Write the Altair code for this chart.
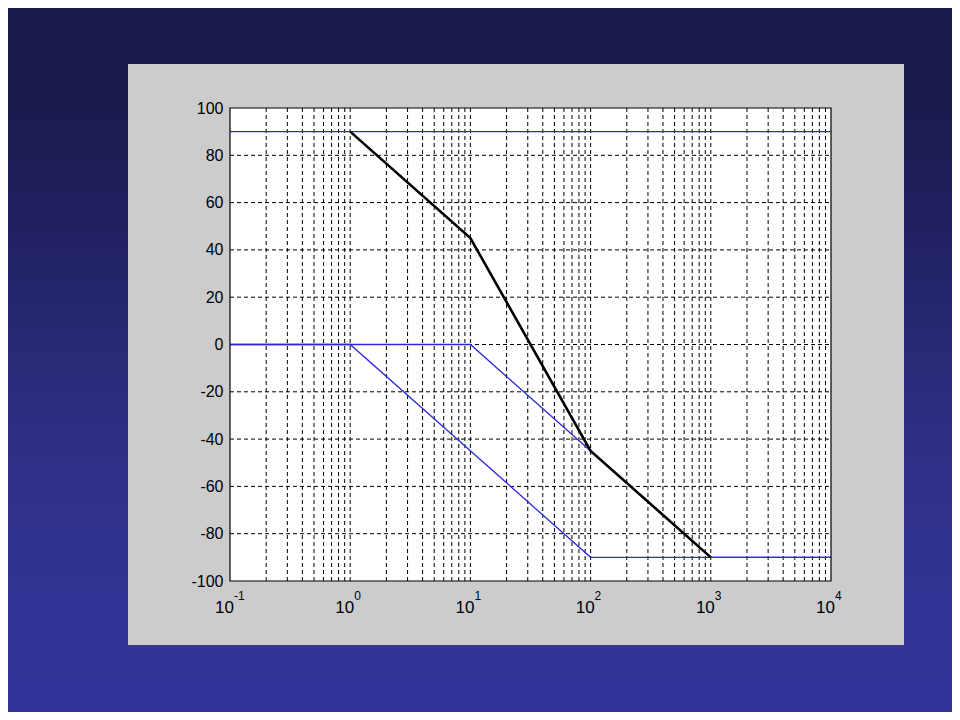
import altair as alt
import pandas as pd

# ---- data ----
blue1_x = [0.1, 10000]
blue1_y = [90, 90]
blue2_x = [0.1, 10, 1000, 10000]
blue2_y = [0, 0, -90, -90]
blue3_x = [0.1, 1, 100, 10000]
blue3_y = [0, 0, -90, -90]
black_x = [1, 10, 100, 1000]
black_y = [90, 45, -45, -90]

x_grid = [0.2, 0.3, 0.4, 0.5, 0.6, 0.7, 0.8, 0.9, 1,
          2, 3, 4, 5, 6, 7, 8, 9, 10,
          20, 30, 40, 50, 60, 70, 80, 90, 100,
          200, 300, 400, 500, 600, 700, 800, 900, 1000,
          2000, 3000, 4000, 5000, 6000, 7000, 8000, 9000]
y_grid = [-80, -60, -40, -20, 0, 20, 40, 60, 80]
y_ticks = [-100, -80, -60, -40, -20, 0, 20, 40, 60, 80, 100]
decades = [0.1, 1, 10, 100, 1000, 10000]
exponents = ["-1", "0", "1", "2", "3", "4"]

W, H = 601, 473
FONT = "Liberation Sans"

rows = []
for name, xs, ys in [("b1", blue1_x, blue1_y), ("b2", blue2_x, blue2_y),
                     ("b3", blue3_x, blue3_y), ("k", black_x, black_y)]:
    for i, (a, b) in enumerate(zip(xs, ys)):
        rows.append({"s": name, "x": a, "y": b, "o": i})
lines_df = pd.DataFrame(rows)

xscale = alt.Scale(type="log", domain=[0.1, 10000], nice=False)
yscale = alt.Scale(domain=[-100, 100], nice=False, zero=False)
yaxis = alt.Axis(values=y_ticks, title=None, ticks=False, domain=False, grid=False,
                 labelFont=FONT, labelFontSize=16, labelColor="black", labelPadding=7,
                 labelExpr="'' + datum.value", zindex=2)

one = pd.DataFrame({"a": [0]})

bg = alt.Chart(one).mark_rect(
    color=alt.Gradient(
        gradient="linear",
        stops=[alt.GradientStop(color="#1a1a4b", offset=0),
               alt.GradientStop(color="#1b1b4e", offset=0.14),
               alt.GradientStop(color="#202060", offset=0.3),
               alt.GradientStop(color="#2a2a78", offset=0.5),
               alt.GradientStop(color="#31318c", offset=0.7),
               alt.GradientStop(color="#333398", offset=0.9),
               alt.GradientStop(color="#333399", offset=1)],
        x1=0, x2=0, y1=0, y2=1)
).encode(x=alt.value(-222), x2=alt.value(722), y=alt.value(-100), y2=alt.value(604))

panel = alt.Chart(one).mark_rect(color="#cccccc").encode(
    x=alt.value(-102), x2=alt.value(674), y=alt.value(-44), y2=alt.value(537))

white = alt.Chart(one).mark_rect(color="white").encode(
    x=alt.value(0), x2=alt.value(W), y=alt.value(0), y2=alt.value(H))

vgrid = alt.Chart(pd.DataFrame({"v": x_grid})).mark_rule(
    color="black", strokeWidth=1, strokeDash=[4, 3]
).encode(x=alt.X("v:Q", scale=xscale, axis=None), y=alt.value(0), y2=alt.value(H))

hgrid = alt.Chart(pd.DataFrame({"v": y_grid})).mark_rule(
    color="black", strokeWidth=1, strokeDash=[4, 3]
).encode(y=alt.Y("v:Q", scale=yscale, axis=yaxis), x=alt.value(0), x2=alt.value(W))

blue = alt.Chart(lines_df[lines_df.s != "k"]).mark_line(
    color="#2a2ad6", strokeWidth=1.3
).encode(
    x=alt.X("x:Q", scale=xscale, axis=None),
    y=alt.Y("y:Q", scale=yscale, axis=yaxis),
    detail="s:N", order="o:Q")

black = alt.Chart(lines_df[lines_df.s == "k"]).mark_line(
    color="black", strokeWidth=2.6
).encode(
    x=alt.X("x:Q", scale=xscale, axis=None),
    y=alt.Y("y:Q", scale=yscale, axis=yaxis),
    order="o:Q")

border = alt.Chart(one).mark_rect(fillOpacity=0, stroke="black", strokeWidth=1.2).encode(
    x=alt.value(0), x2=alt.value(W), y=alt.value(0), y2=alt.value(H))

lab_df = pd.DataFrame({"d": decades, "e": exponents})
base_lab = alt.Chart(lab_df).mark_text(
    align="right", baseline="alphabetic", font=FONT, fontSize=17, color="black", dx=4
).encode(x=alt.X("d:Q", scale=xscale, axis=None), y=alt.value(505), text=alt.value("10"))
exp_lab = alt.Chart(lab_df).mark_text(
    align="left", baseline="alphabetic", font=FONT, fontSize=12, color="black", dx=4
).encode(x=alt.X("d:Q", scale=xscale, axis=None), y=alt.value(492), text="e:N")

chart = alt.layer(bg, panel, white, vgrid, hgrid, blue, black, border, base_lab, exp_lab).properties(
    width=W, height=H,
    autosize=alt.AutoSizeParams(type="none"),
    padding={"left": 222, "top": 100, "right": 121, "bottom": 131},
).configure_view(strokeWidth=0, fill=None)

chart.save("out.html", embed_options={"renderer": "svg", "actions": False})
